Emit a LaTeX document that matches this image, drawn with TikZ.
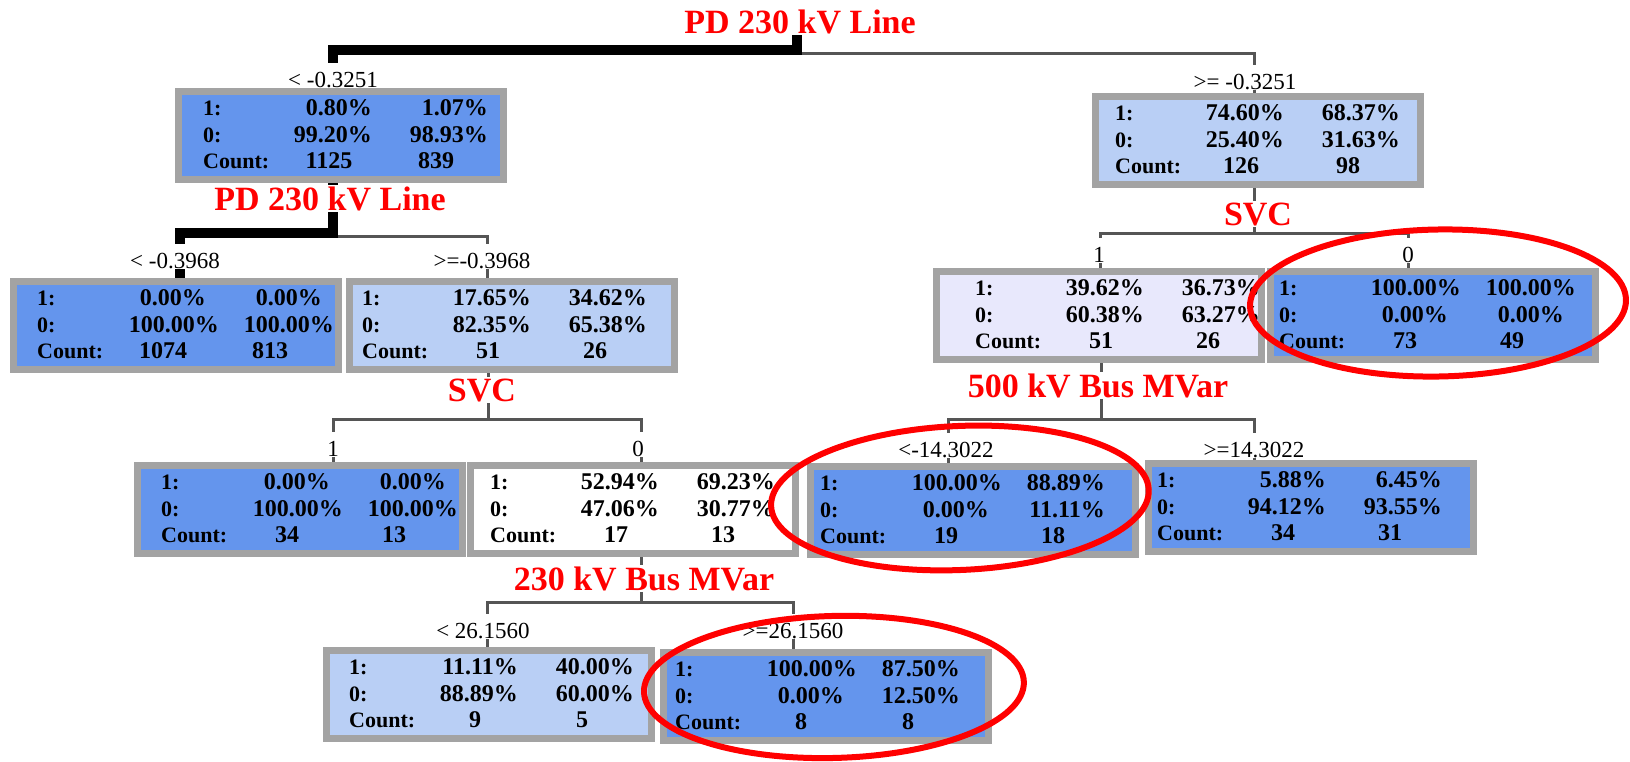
\documentclass[tikz,border=0pt]{standalone}
\usepackage{fontspec}
\setmainfont{Liberation Serif}
\definecolor{bgray}{RGB}{163,163,163}
\definecolor{dblue}{RGB}{100,149,237}
\definecolor{lblue}{RGB}{185,207,245}
\definecolor{lav}{RGB}{232,232,252}
\definecolor{lgray}{RGB}{85,85,85}
\pgfdeclarelayer{bg}
\pgfsetlayers{bg,main}
\newcommand\numfont{\fontsize{24}{28}\selectfont\bfseries}
\newcommand\keyfont{\fontsize{22}{26}\selectfont\bfseries}
\newcommand\lblfont{\fontsize{23}{27}\selectfont}
\newcommand\ttlfont{\fontsize{34}{40}\selectfont\bfseries}
\newcommand\hA{100.00\%\kern-13pt}
\newcommand\hB{100.00\%\kern-12pt}
\newcommand\tbox[5]{%
  \node[tnode, fill=#4, anchor=north west] (#1) at (#2+3.5,#3+3.5) {};
  \def\tbn{#1}\def\tbx{#2}\def\tby{#3}\def\tbl{#5}\tboxtext}
\newcommand\tboxtext[6]{%
  \begin{scope}[shift={(\tbx+\tbl,\tby)}]
  \node[key, anchor=base west] (\tbn-k1) at (0,27.5) {1:};
  \node[cell, anchor=base east] (\tbn-a1) at (169,27.5) {#1};
  \node[cell, anchor=base east] (\tbn-a2) at (285,27.5) {#2};
  \node[key, anchor=base west] (\tbn-k2) at (0,54) {0:};
  \node[cell, anchor=base east] (\tbn-b1) at (169,54) {#3};
  \node[cell, anchor=base east] (\tbn-b2) at (285,54) {#4};
  \node[key, anchor=base west] (\tbn-k3) at (0,80.5) {Count:};
  \node[cell, anchor=base] (\tbn-c1) at (126,80.5) {#5};
  \node[cell, anchor=base] (\tbn-c2) at (233,80.5) {#6};
  \end{scope}}
\begin{document}
\begin{tikzpicture}[x=1pt,y=-1pt,
  tnode/.style={draw=bgray, line width=7pt, minimum width=325pt, minimum height=88pt, inner sep=0pt, outer sep=0pt},
  cell/.style={inner sep=0pt, font=\numfont},
  key/.style={inner sep=0pt, font=\keyfont},
  lbl/.style={inner xsep=2pt, inner ysep=1pt, text height=23pt, fill=white, font=\lblfont},
  ttl/.style={inner sep=1pt, fill=white, text=red, font=\ttlfont},
  thk/.style={line width=10pt, black},
  thn/.style={line width=3pt, lgray},
  oval/.style={draw=red, line width=6pt}]
\useasboundingbox (0,0) rectangle (1630,761);

% boxes
\tbox{b1}{175}{88}{dblue}{28}{0.80\%}{1.07\%}{99.20\%}{98.93\%}{1125}{839}
\tbox{b2}{1092}{93}{lblue}{23}{74.60\%}{68.37\%}{25.40\%}{31.63\%}{126}{98}
\tbox{b3}{10}{278}{dblue}{27}{0.00\%}{0.00\%}{\hA}{\hB}{1074}{813}
\tbox{b4}{346}{278}{lblue}{16}{17.65\%}{34.62\%}{82.35\%}{65.38\%}{51}{26}
\tbox{b5}{933}{268}{lav}{42}{39.62\%}{36.73\%}{60.38\%}{63.27\%}{51}{26}
\tbox{b6}{1267}{268}{dblue}{12}{\hA}{\hB}{0.00\%}{0.00\%}{73}{49}
\tbox{b7}{134}{462}{dblue}{27}{0.00\%}{0.00\%}{\hA}{\hB}{34}{13}
\tbox{b8}{467}{462}{white}{23}{52.94\%}{69.23\%}{47.06\%}{30.77\%}{17}{13}
\tbox{b9}{807}{463}{dblue}{13}{\hA}{88.89\%}{0.00\%}{11.11\%}{19}{18}
\tbox{b10}{1145}{460}{dblue}{12}{5.88\%}{6.45\%}{94.12\%}{93.55\%}{34}{31}
\tbox{b11}{323}{647}{lblue}{26}{11.11\%}{40.00\%}{88.89\%}{60.00\%}{9}{5}
\tbox{b12}{660}{649}{dblue}{15}{\hA}{87.50\%}{0.00\%}{12.50\%}{8}{8}

% split titles
\node[ttl, anchor=base] (t0) at (800,33) {PD 230 kV Line};
\node[ttl, anchor=base] (t1) at (330,210) {PD 230 kV Line};
\node[ttl, anchor=base] (t2) at (482,401) {SVC};
\node[ttl, anchor=base] (t3) at (644,590) {230 kV Bus MVar};
\node[ttl, anchor=base] (t4) at (1258,225) {SVC};
\node[ttl, anchor=base] (t5) at (1098,397) {500 kV Bus MVar};

% branch labels
\node[lbl, anchor=base] (l1) at (333,87) {< -0.3251};
\node[lbl, anchor=base] (l2) at (1245,89) {>= -0.3251};
\node[lbl, anchor=base] (l3) at (175,268) {< -0.3968};
\node[lbl, anchor=base] (l4) at (482,268) {>=-0.3968};
\node[lbl, anchor=base] (l5) at (333,456) {1};
\node[lbl, anchor=base] (l6) at (638,456) {0};
\node[lbl, anchor=base] (l7) at (483,638) {< 26.1560};
\node[lbl, anchor=base] (l8) at (793,638) {>=26.1560};
\node[lbl, anchor=base] (l9) at (1099,262) {1};
\node[lbl, anchor=base] (l10) at (1408,262) {0};
\node[lbl, anchor=base] (l11) at (946,457) {<-14.3022};
\node[lbl, anchor=base] (l12) at (1254,457) {>=14.3022};

% junction coordinates
\coordinate (r0) at (797,50);  \coordinate (r0l) at (333,50);  \coordinate (r0r) at (1254,53);
\coordinate (r1) at (333,233); \coordinate (r1l) at (180,233); \coordinate (r1r) at (487,236);
\coordinate (r2) at (488,419); \coordinate (r2l) at (333,419); \coordinate (r2r) at (641,419);
\coordinate (r3) at (641,602); \coordinate (r3l) at (487,602); \coordinate (r3r) at (793,602);
\coordinate (r4) at (1254,233); \coordinate (r4l) at (1100,233); \coordinate (r4r) at (1408,233);
\coordinate (r5) at (1101,419); \coordinate (r5l) at (948,419); \coordinate (r5r) at (1254,419);

\begin{pgfonlayer}{bg}
% root split
\draw[thn] (r0 |- r0r) -- (r0r) -- (r0r |- b2.north);
\draw[thk] (r0 |- t0.south) -- (r0) -- (r0l) -- (r0l |- b1.north);
% second PD split
\draw[thn] (r1 |- r1r) -- (r1r) -- (r1r |- b4.north);
\draw[thk] (r1 |- b1.south) -- (r1) -- (r1l) -- (r1l |- b3.north);
% SVC left
\draw[thn] (r2 |- b4.south) -- (r2);
\draw[thn] (r2l |- b7.north) -- (r2l) -- (r2r) -- (r2r |- b8.north);
% 230 kV Bus MVar
\draw[thn] (r3 |- b8.south) -- (r3);
\draw[thn] (r3l |- b11.north) -- (r3l) -- (r3r) -- (r3r |- b12.north);
% SVC right
\draw[thn] (r4 |- b2.south) -- (r4);
\draw[thn] (r4l |- b5.north) -- (r4l) -- (r4r) -- (r4r |- b6.north);
% 500 kV Bus MVar
\draw[thn] (r5 |- b5.south) -- (r5);
\draw[thn] (r5l |- b9.north) -- (r5l) -- (r5r) -- (r5r |- b10.north);
\end{pgfonlayer}

% red highlight ellipses
\coordinate (e1) at (1438,303);
\coordinate (e2) at (960,498);
\coordinate (e3) at (834,687);
\draw[oval, rotate around={1:(e1)}] (e1) ellipse [x radius=188pt, y radius=73.5pt];
\draw[oval, rotate around={2.5:(e2)}] (e2) ellipse [x radius=189pt, y radius=72pt];
\draw[oval, rotate around={1.5:(e3)}] (e3) ellipse [x radius=190pt, y radius=71pt];
\end{tikzpicture}
\end{document}
